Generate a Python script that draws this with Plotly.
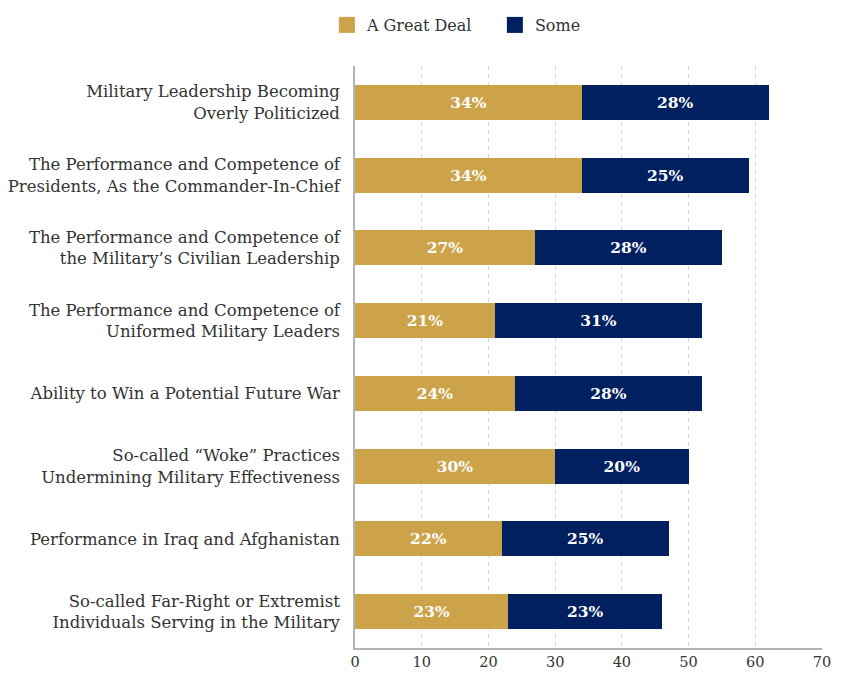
import plotly.graph_objects as go

categories = [
    "Military Leadership Becoming<br>Overly Politicized",
    "The Performance and Competence of<br>Presidents, As the Commander-In-Chief",
    "The Performance and Competence of<br>the Military’s Civilian Leadership",
    "The Performance and Competence of<br>Uniformed Military Leaders",
    "Ability to Win a Potential Future War",
    "So-called “Woke” Practices<br>Undermining Military Effectiveness",
    "Performance in Iraq and Afghanistan",
    "So-called Far-Right or Extremist<br>Individuals Serving in the Military",
]
great_deal = [34, 34, 27, 21, 24, 30, 22, 23]
some = [28, 25, 28, 31, 28, 20, 25, 23]
x_ticks = [0, 10, 20, 30, 40, 50, 60, 70]

GOLD = "#CDA34A"
NAVY = "#002060"
FONT = "DejaVu Serif"

fig = go.Figure()
for name, vals, col in [("A Great Deal", great_deal, GOLD), ("Some", some, NAVY)]:
    fig.add_trace(go.Bar(
        y=categories, x=vals, name=name, orientation="h",
        marker=dict(color=col, line=dict(width=0)),
        width=0.48,
        text=[f"{v}%" for v in vals], textposition="inside",
        insidetextanchor="middle", textangle=0,
        textfont=dict(color="white", size=15.5, family=FONT, weight="bold"),
        showlegend=False, hoverinfo="skip",
    ))
    fig.add_trace(go.Scatter(
        x=[None], y=[None], mode="markers", name=name,
        marker=dict(symbol="square", size=19, color=col, line=dict(width=0)),
        showlegend=True,
    ))

fig.update_layout(
    barmode="stack",
    width=838, height=666,
    paper_bgcolor="white", plot_bgcolor="white",
    margin=dict(l=347, r=24, t=58, b=26, autoexpand=False),
    font=dict(family=FONT, size=16, color="#333333"),
    legend=dict(orientation="h", x=0.581, xanchor="center", xref="container",
                y=1.0, yanchor="top", yref="container",
                font=dict(size=16, color="#333333"), itemwidth=30,
                entrywidth=123, traceorder="normal"),
    bargap=0.52,
)
fig.update_xaxes(
    range=[0, 70], tickvals=x_ticks, ticktext=[str(t) for t in x_ticks],
    showgrid=True, gridcolor="#d6d6d6", griddash="4px,4px", gridwidth=1,
    showline=True, linecolor="#b0b4b8", linewidth=1.5, mirror=False,
    zeroline=False, ticks="", tickfont=dict(size=14.5, color="#333333"),
    automargin=False,
)
fig.update_yaxes(
    autorange="reversed", showgrid=False,
    showline=True, linecolor="#b0b4b8", linewidth=1.5,
    ticks="", ticklabelstandoff=10, automargin=False,
    tickfont=dict(size=16.5, color="#333333"),
)
fig.write_html("out.html")
